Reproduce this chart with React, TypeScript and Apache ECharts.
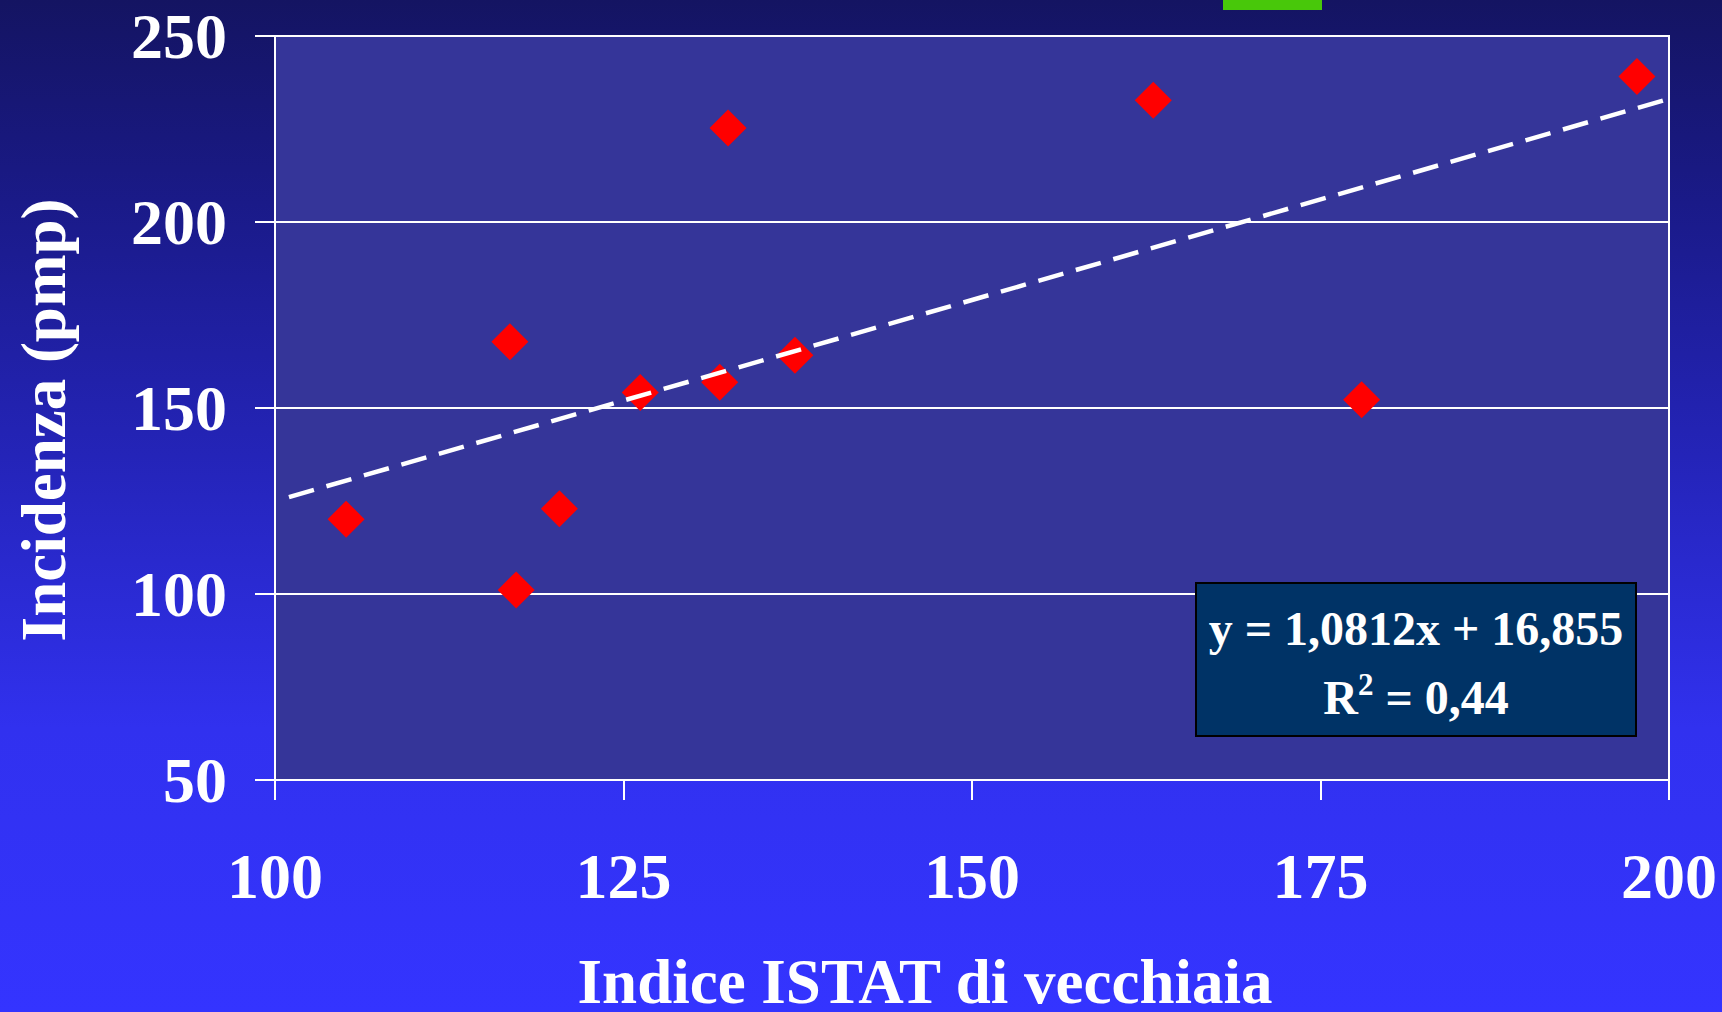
import React, { useEffect, useRef } from "react";
import * as echarts from "echarts";

// Data
const istatIndex = [105.1, 116.85, 117.3, 120.4, 126.2, 131.9, 132.5, 137.3, 163.0, 177.95, 197.7];
const incidence = [120.1, 167.8, 101.1, 122.9, 154.2, 156.9, 225.3, 164.2, 232.7, 152.2, 239.1];

// Trendline reported on the chart: y = 1,0812x + 16,855
const trendSlope = 1.0812;
const trendIntercept = 16.855;
const trendRange = [101, 200.25];

const xTicks = { min: 100, max: 200, interval: 25 };
const yTicks = { min: 50, max: 250, interval: 50 };

const xAxisTitle = "Indice ISTAT di vecchiaia";
const yAxisTitle = "Incidenza (pmp)";
const equationText = "y = 1,0812x + 16,855";
const r2Rich = "{a|R}{s|2}{a| = 0,44}";

const FONT = "'Liberation Serif', 'Times New Roman', serif";

export default function App() {
  const ref = useRef<HTMLDivElement>(null);

  useEffect(() => {
    document.body.style.margin = "0";
    document.body.style.overflow = "hidden";
    if (!ref.current) return;
    const chart = echarts.init(ref.current, null, { renderer: "svg" });

    const scatterData = istatIndex.map((x, i) => [x, incidence[i]]);
    const trendData = trendRange.map((x) => [x, trendSlope * x + trendIntercept]);

    const labelStyle = {
      color: "#ffffff",
      fontFamily: FONT,
      fontWeight: "bold" as const,
      fontSize: 64,
    };

    chart.setOption({
      animation: false,
      backgroundColor: new echarts.graphic.LinearGradient(0, 0, 0, 1, [
        { offset: 0, color: "#141462" },
        { offset: 0.2, color: "#1a1a88" },
        { offset: 0.45, color: "#2424b8" },
        { offset: 0.72, color: "#3131ef" },
        { offset: 1, color: "#3434ff" },
      ]),
      grid: {
        left: 275,
        right: 53,
        top: 36,
        bottom: 232,
        show: true,
        backgroundColor: "#353599",
        borderColor: "#ffffff",
        borderWidth: 2,
      },
      xAxis: {
        type: "value",
        min: xTicks.min,
        max: xTicks.max,
        interval: xTicks.interval,
        axisLine: { show: true, onZero: false, lineStyle: { color: "#ffffff", width: 2 } },
        axisTick: { show: true, length: 20, lineStyle: { color: "#ffffff", width: 2 } },
        axisLabel: { ...labelStyle, margin: 64 },
        splitLine: { show: false },
      },
      yAxis: {
        type: "value",
        min: yTicks.min,
        max: yTicks.max,
        interval: yTicks.interval,
        axisLine: { show: true, onZero: false, lineStyle: { color: "#ffffff", width: 2 } },
        axisTick: { show: true, length: 20, lineStyle: { color: "#ffffff", width: 2 } },
        axisLabel: { ...labelStyle, margin: 48 },
        splitLine: { show: true, lineStyle: { color: "#ffffff", width: 2 } },
      },
      series: [
        {
          type: "scatter",
          data: scatterData,
          symbol: "diamond",
          symbolSize: 37,
          itemStyle: { color: "#ff0000", opacity: 1 },
          z: 3,
        },
        {
          type: "line",
          data: trendData,
          showSymbol: false,
          symbol: "none",
          clip: false,
          lineStyle: { color: "#ffffff", width: 4.5, type: [26, 13] },
          z: 4,
        },
      ],
      graphic: [
        {
          type: "rect",
          shape: { x: 1223, y: 0, width: 99, height: 10 },
          style: { fill: "#48c80a" },
          z: 100,
        },
        {
          type: "rect",
          shape: { x: 1196, y: 583, width: 440, height: 153 },
          style: { fill: "#003366", stroke: "#000000", lineWidth: 2 },
          z: 100,
        },
        {
          type: "text",
          x: 1416,
          y: 628,
          z: 101,
          style: {
            text: equationText,
            fill: "#ffffff",
            font: `bold 48px ${FONT}`,
            align: "center",
            verticalAlign: "middle",
          },
        },
        {
          type: "text",
          x: 1416,
          y: 697,
          z: 101,
          style: {
            text: r2Rich,
            fill: "#ffffff",
            align: "center",
            verticalAlign: "middle",
            rich: {
              a: { fontFamily: FONT, fontWeight: "bold", fontSize: 48, lineHeight: 56, fill: "#ffffff" },
              s: {
                fontFamily: FONT,
                fontWeight: "bold",
                fontSize: 31,
                lineHeight: 22,
                verticalAlign: "top",
                fill: "#ffffff",
              },
            },
          },
        },
        {
          type: "text",
          x: 925,
          y: 982,
          z: 101,
          style: {
            text: xAxisTitle,
            fill: "#ffffff",
            font: `bold 63px ${FONT}`,
            align: "center",
            verticalAlign: "middle",
          },
        },
        {
          type: "text",
          x: 44,
          y: 420,
          rotation: Math.PI / 2,
          z: 101,
          style: {
            text: yAxisTitle,
            fill: "#ffffff",
            font: `bold 63px ${FONT}`,
            align: "center",
            verticalAlign: "middle",
          },
        },
      ],
    });

    return () => {
      chart.dispose();
    };
  }, []);

  return <div ref={ref} style={{ width: 1722, height: 1012 }} />;
}
